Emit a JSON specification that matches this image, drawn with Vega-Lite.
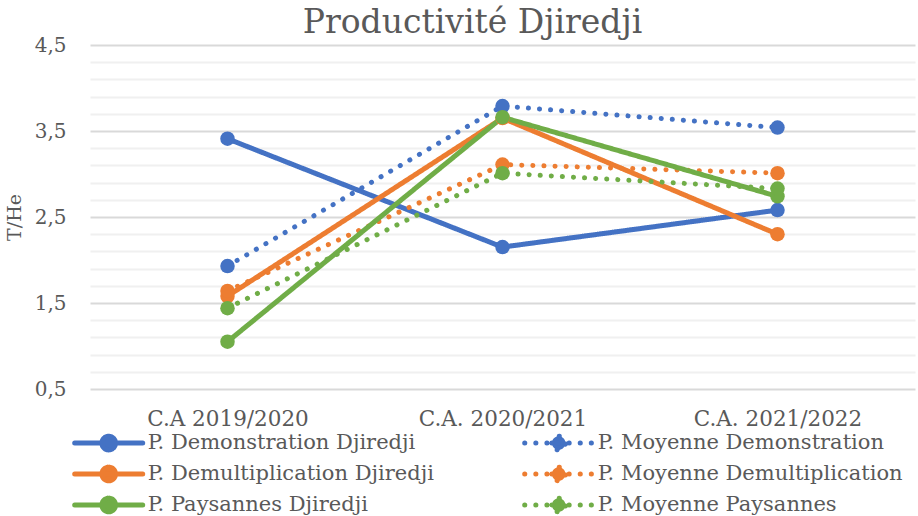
{
  "$schema": "https://vega.github.io/schema/vega-lite/v6.json",
  "width": 825,
  "height": 344,
  "autosize": {"type": "none"},
  "padding": {"left": 90, "top": 45, "right": 3, "bottom": 127},
  "background": "white",
  "config": {
    "view": {"stroke": null},
    "font": "DejaVu Serif"
  },
  "title": {
    "text": "Productivité Djiredji",
    "font": "DejaVu Serif",
    "fontSize": 33,
    "fontWeight": "normal",
    "color": "#595959",
    "anchor": "middle",
    "dx": -30,
    "offset": -5
  },
  "data": {
    "values": [
      {"periode": "C.A 2019/2020", "serie": "P. Demonstration Djiredji", "val": 3.41},
      {"periode": "C.A. 2020/2021", "serie": "P. Demonstration Djiredji", "val": 2.15},
      {"periode": "C.A. 2021/2022", "serie": "P. Demonstration Djiredji", "val": 2.58},
      {"periode": "C.A 2019/2020", "serie": "P. Moyenne Demonstration", "val": 1.93},
      {"periode": "C.A. 2020/2021", "serie": "P. Moyenne Demonstration", "val": 3.79},
      {"periode": "C.A. 2021/2022", "serie": "P. Moyenne Demonstration", "val": 3.54},
      {"periode": "C.A 2019/2020", "serie": "P. Demultiplication Djiredji", "val": 1.58},
      {"periode": "C.A. 2020/2021", "serie": "P. Demultiplication Djiredji", "val": 3.65},
      {"periode": "C.A. 2021/2022", "serie": "P. Demultiplication Djiredji", "val": 2.30},
      {"periode": "C.A 2019/2020", "serie": "P. Moyenne Demultiplication", "val": 1.64},
      {"periode": "C.A. 2020/2021", "serie": "P. Moyenne Demultiplication", "val": 3.11},
      {"periode": "C.A. 2021/2022", "serie": "P. Moyenne Demultiplication", "val": 3.01},
      {"periode": "C.A 2019/2020", "serie": "P. Paysannes Djiredji", "val": 1.05},
      {"periode": "C.A. 2020/2021", "serie": "P. Paysannes Djiredji", "val": 3.66},
      {"periode": "C.A. 2021/2022", "serie": "P. Paysannes Djiredji", "val": 2.74},
      {"periode": "C.A 2019/2020", "serie": "P. Moyenne Paysannes", "val": 1.44},
      {"periode": "C.A. 2020/2021", "serie": "P. Moyenne Paysannes", "val": 3.01},
      {"periode": "C.A. 2021/2022", "serie": "P. Moyenne Paysannes", "val": 2.83}
    ]
  },
  "mark": {
    "type": "line",
    "strokeWidth": 5,
    "strokeCap": "round",
    "point": {"filled": true, "size": 210, "opacity": 1}
  },
  "encoding": {
    "x": {
      "field": "periode",
      "type": "nominal",
      "sort": null,
      "scale": {"type": "point", "padding": 0.5},
      "axis": {
        "title": null,
        "domain": false,
        "ticks": false,
        "grid": false,
        "labelAngle": 0,
        "labelFont": "DejaVu Serif",
        "labelFontSize": 21.5,
        "labelColor": "#595959",
        "labelPadding": 19
      }
    },
    "y": {
      "field": "val",
      "type": "quantitative",
      "scale": {"domain": [0.5, 4.5], "nice": false, "zero": false},
      "axis": {
        "title": "T/He",
        "titleFont": "DejaVu Serif",
        "titleFontSize": 19,
        "titleFontWeight": "normal",
        "titleColor": "#595959",
        "titlePadding": 10,
        "values": [0.5, 0.7, 0.9, 1.1, 1.3, 1.5, 1.7, 1.9, 2.1, 2.3, 2.5, 2.7, 2.9, 3.1, 3.3, 3.5, 3.7, 3.9, 4.1, 4.3, 4.5],
        "labelExpr": "round(datum.value*10) % 10 == 5 ? replace(format(datum.value, '.1f'), '.', ',') : ''",
        "domain": false,
        "ticks": false,
        "labelFont": "DejaVu Serif",
        "labelFontSize": 20,
        "labelColor": "#595959",
        "labelPadding": 24,
        "grid": true,
        "gridWidth": 2,
        "gridColor": {"condition": {"test": "round(datum.value*10) % 10 == 5", "value": "#d9d9d9"}, "value": "#f0f0f0"}
      }
    },
    "color": {
      "field": "serie",
      "type": "nominal",
      "scale": {
        "domain": ["P. Demonstration Djiredji", "P. Moyenne Demonstration", "P. Demultiplication Djiredji", "P. Moyenne Demultiplication", "P. Paysannes Djiredji", "P. Moyenne Paysannes"],
        "range": ["#4472C4", "#4472C4", "#ED7D31", "#ED7D31", "#70AD47", "#70AD47"]
      },
      "legend": {
        "title": null,
        "orient": "none",
        "legendX": 4.7,
        "legendY": 384,
        "direction": "horizontal",
        "columns": 2,
        "columnPadding": 79,
        "rowPadding": -8,
        "symbolType": "M-3,0L3,0M-0.6,0A0.6,0.6,0,1,1,0.6,0A0.6,0.6,0,1,1,-0.6,0Z",
        "symbolSize": 514,
        "symbolStrokeWidth": 5,
        "symbolOffset": 0,
        "labelOffset": 25,
        "labelFont": "DejaVu Serif",
        "labelFontSize": 21,
        "labelColor": "#595959",
        "labelLimit": 400,
        "encode": {
          "symbols": {
            "update": {
              "fill": {"scale": "color", "field": "value"},
              "fillOpacity": {"value": 1},
              "strokeCap": {"value": "round"}
            }
          }
        }
      }
    },
    "strokeDash": {
      "field": "serie",
      "type": "nominal",
      "scale": {
        "domain": ["P. Demonstration Djiredji", "P. Moyenne Demonstration", "P. Demultiplication Djiredji", "P. Moyenne Demultiplication", "P. Paysannes Djiredji", "P. Moyenne Paysannes"],
        "range": [[1, 0], [0.1, 11], [1, 0], [0.1, 11], [1, 0], [0.1, 11]]
      }
    }
  }
}
